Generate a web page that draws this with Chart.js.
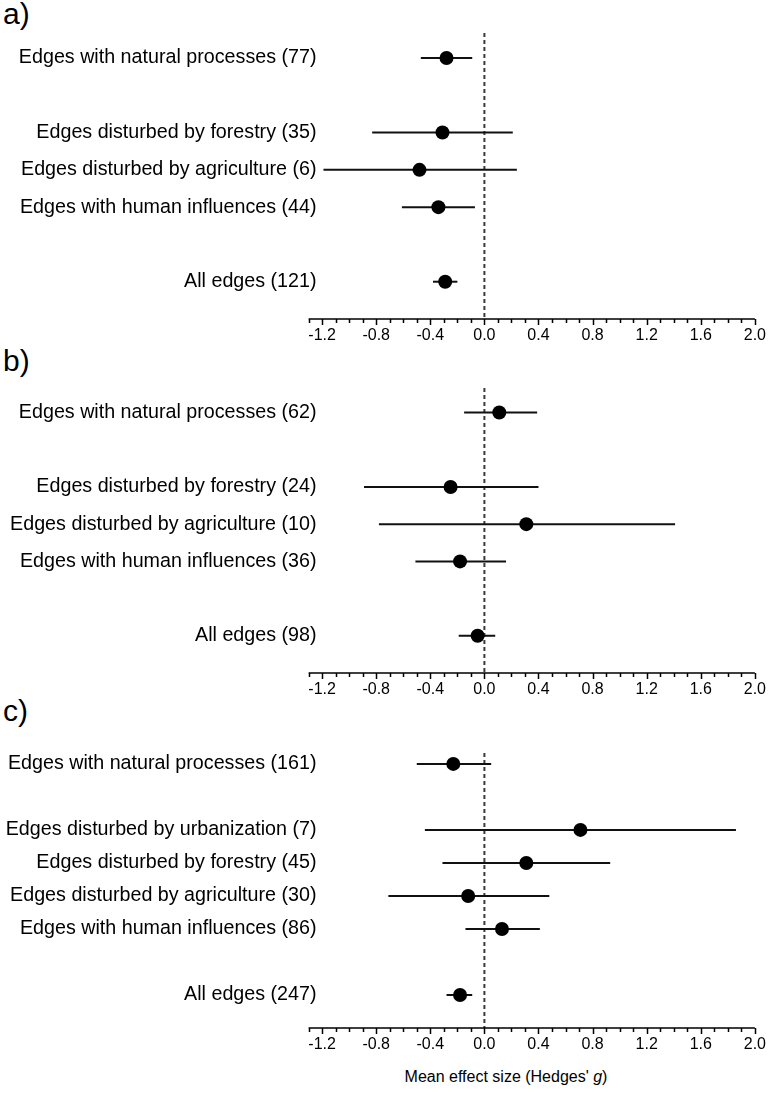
<!DOCTYPE html>
<html>
<head>
<meta charset="utf-8">
<script src="https://cdn.jsdelivr.net/npm/chart.js@4.4.1/dist/chart.umd.min.js"></script>
<style>
  body { margin: 0; background: #fff; width: 773px; height: 1099px; position: relative; overflow: hidden;
         font-family: "Liberation Sans", Arial, sans-serif; color: #000; }
  canvas { position: absolute; left: 0; }
  .tag { position: absolute; left: 3px; font-size: 30px; line-height: 30px; }
  #xtitle { position: absolute; top: 1068px; left: 280px; width: 452px; text-align: center; font-size: 16px; }
</style>
</head>
<body>
<div class="tag" style="top:-1px">a)</div>
<div class="tag" style="top:346px">b)</div>
<div class="tag" style="top:696px">c)</div>
<canvas id="chartA" width="773" height="349" style="top:0px"></canvas>
<canvas id="chartB" width="773" height="348" style="top:355px"></canvas>
<canvas id="chartC" width="773" height="338" style="top:720px"></canvas>
<div id="xtitle">Mean effect size (Hedges' <i>g</i>)</div>
<script>
// x axis: drawn line runs from axisStart to xMax, plot area starts a little right of it
const axisStart = -1.3;
const xMin = -1.2415;
const xMax = 2.0;
const xTickLabels = [-1.2, -0.8, -0.4, 0.0, 0.4, 0.8, 1.2, 1.6, 2.0];

// a) '' = empty row between groups, null = no value
const catsA = ['Edges with natural processes (77)', '', 'Edges disturbed by forestry (35)',
  'Edges disturbed by agriculture (6)', 'Edges with human influences (44)', '', 'All edges (121)'];
const meanA = [-0.28, null, -0.31, -0.48, -0.34, null, -0.29];
const lowA = [-0.47, null, -0.83, -1.19, -0.61, null, -0.38];
const highA = [-0.09, null, 0.21, 0.24, -0.07, null, -0.20];

// b)
const catsB = ['Edges with natural processes (62)', '', 'Edges disturbed by forestry (24)',
  'Edges disturbed by agriculture (10)', 'Edges with human influences (36)', '', 'All edges (98)'];
const meanB = [0.11, null, -0.25, 0.31, -0.18, null, -0.05];
const lowB = [-0.15, null, -0.89, -0.78, -0.51, null, -0.19];
const highB = [0.39, null, 0.40, 1.41, 0.16, null, 0.08];

// c)
const catsC = ['Edges with natural processes (161)', '', 'Edges disturbed by urbanization (7)',
  'Edges disturbed by forestry (45)', 'Edges disturbed by agriculture (30)',
  'Edges with human influences (86)', '', 'All edges (247)'];
const meanC = [-0.23, null, 0.71, 0.31, -0.12, 0.13, null, -0.18];
const lowC = [-0.50, null, -0.44, -0.31, -0.71, -0.14, null, -0.28];
const highC = [0.05, null, 1.86, 0.93, 0.48, 0.41, null, -0.09];

// draws the x axis line with minor (0.1) and major (labelled) ticks
const axisTicks = {
  id: 'axisTicks',
  afterDraw(chart) {
    const sx = chart.scales.x;
    const ctx = chart.ctx;
    const y0 = chart.chartArea.bottom;
    ctx.save();
    ctx.strokeStyle = '#000';
    ctx.lineWidth = 1.5;
    ctx.beginPath();
    ctx.moveTo(sx.getPixelForValue(axisStart), y0);
    ctx.lineTo(sx.getPixelForValue(xMax), y0);
    for (let k = Math.round(axisStart * 10); k <= Math.round(xMax * 10); k++) {
      const v = k / 10;
      const major = xTickLabels.some(t => Math.abs(t - v) < 1e-6);
      const px = Math.round(sx.getPixelForValue(v)) + 0.5;
      ctx.moveTo(px, y0);
      ctx.lineTo(px, y0 + (major ? 6 : 4));
    }
    ctx.stroke();
    ctx.restore();
  }
};

function makeForest(id, cats, mean, low, high, yMin) {
  const datasets = [];
  // zero reference line
  datasets.push({
    data: [{ x: 0, y: yMin }, { x: 0, y: cats.length }],
    showLine: true, borderColor: '#3a3a3a', borderWidth: 2, borderDash: [4, 3],
    pointRadius: 0, order: 3, clip: false
  });
  cats.forEach((c, i) => {
    if (mean[i] === null) return;
    datasets.push({
      data: [{ x: low[i], y: i }, { x: high[i], y: i }],
      showLine: true, borderColor: '#111', borderWidth: 2,
      pointRadius: 0, order: 2, clip: false
    });
  });
  datasets.push({
    data: cats.map((c, i) => mean[i] === null ? null : { x: mean[i], y: i }).filter(p => p),
    backgroundColor: '#000', borderWidth: 0, pointRadius: 7, order: 1, clip: false
  });

  return new Chart(document.getElementById(id), {
    type: 'scatter',
    data: { datasets },
    options: {
      responsive: false,
      animation: false,
      layout: { padding: { top: 33, right: 13, left: 0, bottom: 0 } },
      plugins: { legend: { display: false }, tooltip: { enabled: false } },
      scales: {
        x: {
          type: 'linear', min: xMin, max: xMax,
          afterBuildTicks: s => { s.ticks = xTickLabels.map(v => ({ value: v })); },
          afterFit: s => { s.height = 30; },
          grid: { display: false, drawTicks: false },
          border: { display: false },
          ticks: {
            color: '#000', padding: 7, maxRotation: 0, autoSkip: false,
            font: { family: 'Liberation Sans', size: 16 },
            callback: v => v.toFixed(1)
          }
        },
        y: {
          type: 'linear', reverse: true, min: yMin, max: cats.length,
          afterBuildTicks: s => { s.ticks = cats.map((c, i) => ({ value: i })); },
          afterFit: s => { s.width = 316.5; },
          grid: { display: false, drawTicks: false },
          border: { display: false },
          ticks: {
            color: '#000', padding: 0, autoSkip: false,
            font: { family: 'Liberation Sans', size: 19.7 },
            callback: (v, i) => cats[i]
          }
        }
      }
    },
    plugins: [axisTicks]
  });
}

makeForest('chartA', catsA, meanA, lowA, highA, -0.67);
makeForest('chartB', catsB, meanB, lowB, highB, -0.66);
makeForest('chartC', catsC, meanC, lowC, highC, -0.33);
</script>
</body>
</html>
